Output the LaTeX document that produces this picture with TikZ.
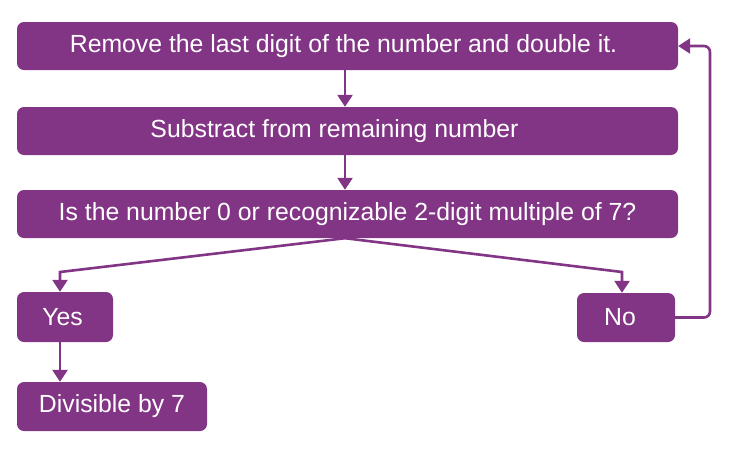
\documentclass[tikz,border=0pt]{standalone}
\usepackage{fontspec}
\setmainfont{Liberation Sans}
\usetikzlibrary{arrows.meta}
\definecolor{plum}{RGB}{130,52,133}
\tikzset{
	stepbox/.style={fill=plum, text=white, rounded corners=7pt, inner sep=0pt,
		font=\fontsize{24.8}{29}\selectfont},
	flow/.style={draw=plum, line width=2.6pt, -{Triangle[length=12pt,width=15pt]}},
}
\begin{document}
\begin{tikzpicture}[x=1pt,y=-1pt]

	\useasboundingbox (0,0) rectangle (733,451);

	% boxes
	\node[stepbox, minimum width=661pt, minimum height=48pt] (rem) at (347.5,46) {\hspace*{-8pt}Remove the last digit of the number and double it.};
	\node[stepbox, minimum width=661pt, minimum height=48pt] (sub) at (347.5,131) {\hspace*{-26pt}Substract from remaining number};
	\node[stepbox, minimum width=661pt, minimum height=48pt] (isnum) at (347.5,214) {Is the number 0 or recognizable 2-digit multiple of 7?};
	\node[stepbox, minimum width=96pt, minimum height=50pt] (yes) at (65,317) {\hspace*{-5pt}Yes};
	\node[stepbox, minimum width=98pt, minimum height=49pt] (no) at (626,317.5) {\hspace*{-12pt}No};
	\node[stepbox, minimum width=190pt, minimum height=49pt] (div) at (112,406.5) {Divisible by 7};

	% bends
	\coordinate (yb) at (60,272);
	\coordinate (nb) at (622,272);
	\coordinate (lp) at (710,0);

	% arrows
	\draw[flow] (rem.south -| 345,0) -- (sub.north -| 345,0);
	\draw[flow] (sub.south -| 345,0) -- (isnum.north -| 345,0);
	\draw[flow] (isnum.south -| 345,0) -- (yb) -- (yb |- yes.north);
	\draw[flow] (isnum.south -| 345,0) -- (nb) -- (nb |- no.north);
	\draw[flow] (yes.south -| yb) -- (div.north -| yb);
	\draw[flow, rounded corners=6pt] (no.east) -- (no.east -| lp) -- (rem.east -| lp) -- (rem.east);

\end{tikzpicture}
\end{document}
